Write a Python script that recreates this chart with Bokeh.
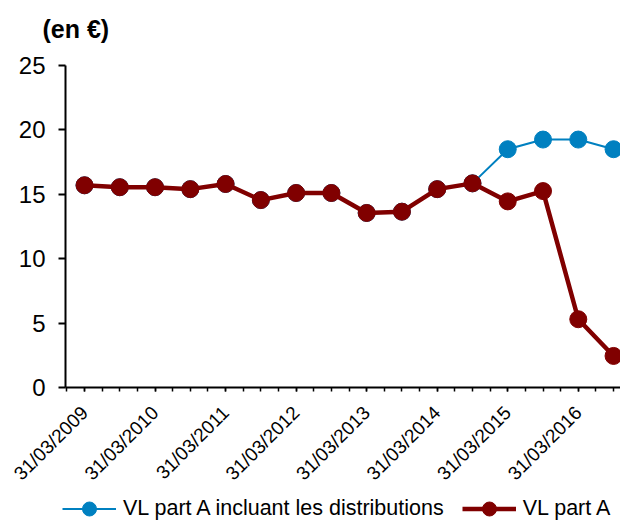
import math
from bokeh.plotting import figure
from bokeh.layouts import column
from bokeh.core.properties import value
from bokeh.models import (Range1d, FixedTicker, Legend, LegendItem)
from bokeh.embed import file_html
from bokeh.resources import INLINE

# ---- data ----
dates = ["31/03/2009", "30/09/2009", "31/03/2010", "30/09/2010",
         "31/03/2011", "30/09/2011", "31/03/2012", "30/09/2012",
         "31/03/2013", "30/09/2013", "31/03/2014", "30/09/2014",
         "31/03/2015", "30/09/2015", "31/03/2016", "30/09/2016"]
vl_part_a = [15.7, 15.55, 15.55, 15.4, 15.8, 14.55, 15.1, 15.1,
             13.55, 13.65, 15.4, 15.85, 14.45, 15.25, 5.3, 2.45]
vl_incl_distrib = [15.7, 15.55, 15.55, 15.4, 15.8, 14.55, 15.1, 15.1,
                   13.55, 13.65, 15.4, 15.85, 18.5, 19.25, 19.25, 18.5]
label_every = 2
series_names = ["VL part A incluant les distributions", "VL part A"]
y_ticks = [0, 5, 10, 15, 20, 25]
unit_title = "(en €)"

BLUE = "#0080C0"
RED = "#800000"
FONT = "Liberation Sans"

xs = list(range(len(dates)))

# ---- title strip ----
TH = 45
ts = figure(width=620, height=TH, output_backend="svg", toolbar_location=None,
            x_range=Range1d(0, 620), y_range=Range1d(TH, 0),
            x_axis_location=None, y_axis_location=None, min_border=0,
            frame_align=False)
ts.outline_line_color = None
ts.grid.visible = False
ts.text(x=[42], y=[28], text=[unit_title], text_font=value(FONT),
        text_font_size="25px", text_font_style="bold", text_color="black",
        text_baseline="middle", text_align="left")

# ---- main chart ----
p = figure(width=620, height=494 - TH, output_backend="svg", toolbar_location=None,
           x_range=Range1d(-0.539, 15.197), y_range=Range1d(0, 25),
           min_border_left=65, min_border_top=65 - TH, min_border_right=0,
           min_border_bottom=107)
p.outline_line_color = None
p.grid.visible = False
p.background_fill_color = "white"

# blue series (drawn first, under red)
p.line(xs, vl_incl_distrib, line_color=BLUE, line_width=2)
p.scatter(xs, vl_incl_distrib, size=17, fill_color=BLUE, line_color=BLUE)
# red series
p.line(xs, vl_part_a, line_color=RED, line_width=4.5)
p.scatter(xs, vl_part_a, size=17, fill_color=RED, line_color=RED)

xa = p.xaxis[0]
major = [i for i in xs if i % label_every == 0]
minor = [i * 0.5 - 0.5 for i in range(2 * len(dates) + 1)]
xa.ticker = FixedTicker(ticks=major, minor_ticks=minor)
xa.major_label_overrides = {i: dates[i] for i in major}
xa.major_label_orientation = math.pi / 4
xa.major_label_text_font = FONT
xa.major_label_text_font_size = "19px"
xa.major_label_text_color = "black"
xa.major_label_standoff = 18
xa.axis_line_width = 2
xa.axis_line_color = "black"
xa.major_tick_out = 4
xa.major_tick_in = 0
xa.minor_tick_out = 4
xa.minor_tick_in = 0
xa.major_tick_line_width = 1.5
xa.minor_tick_line_width = 1.5
xa.major_tick_line_color = "black"
xa.minor_tick_line_color = "black"

ya = p.yaxis[0]
ya.ticker = FixedTicker(ticks=y_ticks)
ya.minor_tick_line_color = None
ya.major_tick_out = 7
ya.major_tick_in = 0
ya.major_tick_line_width = 2
ya.major_tick_line_color = "black"
ya.axis_line_width = 2
ya.axis_line_color = "black"
ya.major_label_text_font = FONT
ya.major_label_text_font_size = "24px"
ya.major_label_text_color = "black"
ya.major_label_standoff = 13

# ---- legend strip ----
LH = 520 - 494
lg = figure(width=620, height=LH, output_backend="svg", toolbar_location=None,
            x_range=Range1d(0, 1), y_range=Range1d(0, 1),
            x_axis_location=None, y_axis_location=None, min_border=0,
            frame_align=False)
lg.outline_line_color = None
lg.grid.visible = False
# legend proxies (their single point lies outside this strip's view)
bl = lg.line(xs[:2], vl_incl_distrib[:2], line_color=BLUE, line_width=2)
bs = lg.scatter(xs[:1], vl_incl_distrib[:1], size=17, fill_color=BLUE, line_color=BLUE)
rl = lg.line(xs[:2], vl_part_a[:2], line_color=RED, line_width=4.5)
rs = lg.scatter(xs[:1], vl_part_a[:1], size=17, fill_color=RED, line_color=RED)

legend = Legend(items=[LegendItem(label=series_names[0], renderers=[bl, bs]),
                       LegendItem(label=series_names[1], renderers=[rl, rs])],
                orientation="horizontal", location=(62, -5.5),
                glyph_width=54, glyph_height=35, label_standoff=7, spacing=18,
                padding=0, margin=0, border_line_color=None,
                background_fill_alpha=0,
                label_text_font=FONT, label_text_font_size="21.5px",
                label_text_color="black")
lg.add_layout(legend, "center")

layout = column(ts, p, lg, spacing=0)
open("out.html", "w").write(file_html(layout, INLINE))
